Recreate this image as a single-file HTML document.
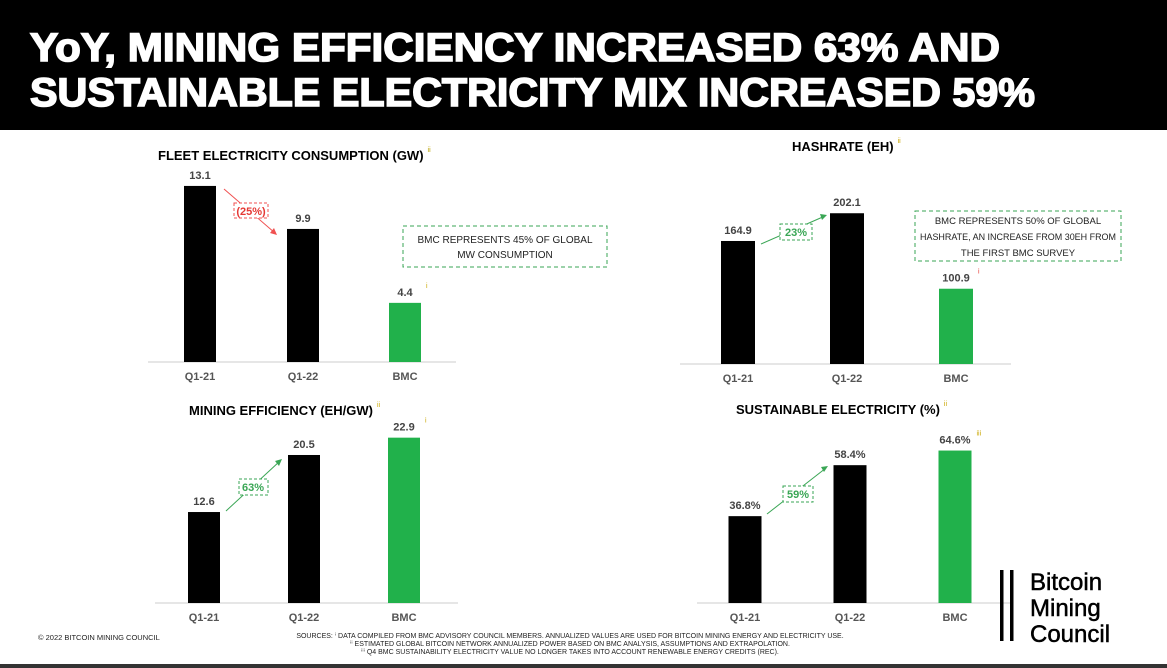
<!DOCTYPE html>
<html><head><meta charset="utf-8">
<style>
html,body{margin:0;padding:0;background:#fff;width:1167px;height:668px;overflow:hidden}
svg{display:block;font-family:"Liberation Sans",sans-serif}
</style></head>
<body>
<svg id="s" width="1167" height="668" viewBox="0 0 1167 668">
<rect x="0" y="0" width="1167" height="130" fill="#000"/>
<text x="30" y="61" fill="#fff" stroke="#fff" stroke-width="1.6" font-size="40" font-weight="bold" textLength="970" lengthAdjust="spacingAndGlyphs">YoY, MINING EFFICIENCY INCREASED 63% AND</text>
<text x="30" y="106" fill="#fff" stroke="#fff" stroke-width="1.6" font-size="40" font-weight="bold" textLength="1005" lengthAdjust="spacingAndGlyphs">SUSTAINABLE ELECTRICITY MIX INCREASED 59%</text>
<g id="charts"></g>
<rect x="403" y="226" width="204" height="41" fill="none" stroke="#3aa655" stroke-dasharray="4,3"/>
<text x="505" y="243" font-size="10" text-anchor="middle" fill="#222">BMC REPRESENTS 45% OF GLOBAL</text>
<text x="505" y="258" font-size="10" text-anchor="middle" fill="#222">MW CONSUMPTION</text>
<rect x="915" y="211" width="206" height="50" fill="none" stroke="#3aa655" stroke-dasharray="4,3"/>
<text x="1018" y="224" font-size="9.5" text-anchor="middle" fill="#222">BMC REPRESENTS 50% OF GLOBAL</text>
<text x="1018" y="240" font-size="9.5" text-anchor="middle" fill="#222" textLength="196" lengthAdjust="spacingAndGlyphs">HASHRATE, AN INCREASE FROM 30EH FROM</text>
<text x="1018" y="256" font-size="9.5" text-anchor="middle" fill="#222">THE FIRST BMC SURVEY</text>
<g>
<line x1="224" y1="189" x2="275" y2="233" stroke="#f05050" stroke-width="1"/>
<polygon points="277,235 270,233 274,228" fill="#f05050"/>
<rect x="234" y="203" width="34" height="15" fill="#fff" stroke="#f05050" stroke-dasharray="3,2"/>
<text x="251" y="215" font-size="11" font-weight="bold" fill="#e53935" text-anchor="middle">(25%)</text>
</g>
<g>
<line x1="761" y1="244" x2="825" y2="216" stroke="#3aa655" stroke-width="1"/>
<polygon points="827,215 820,214 822,220" fill="#3aa655"/>
<rect x="780" y="224" width="32" height="16" fill="#fff" stroke="#3aa655" stroke-dasharray="3,2"/>
<text x="796" y="236" font-size="11" font-weight="bold" fill="#3aa655" text-anchor="middle">23%</text>
</g>
<g>
<line x1="226" y1="511" x2="280" y2="461" stroke="#3aa655" stroke-width="1"/>
<polygon points="282,459 275,461 279,466" fill="#3aa655"/>
<rect x="239" y="479" width="29" height="16" fill="#fff" stroke="#3aa655" stroke-dasharray="3,2"/>
<text x="253" y="491" font-size="11" font-weight="bold" fill="#3aa655" text-anchor="middle">63%</text>
</g>
<g>
<line x1="767" y1="514" x2="826" y2="468" stroke="#3aa655" stroke-width="1"/>
<polygon points="828,466 821,467 824,472" fill="#3aa655"/>
<rect x="783" y="486" width="30" height="16" fill="#fff" stroke="#3aa655" stroke-dasharray="3,2"/>
<text x="798" y="498" font-size="11" font-weight="bold" fill="#3aa655" text-anchor="middle">59%</text>
</g>
<g>
<rect x="1000" y="570" width="3.5" height="71" fill="#000"/>
<rect x="1010" y="570" width="3.5" height="71" fill="#000"/>
<text x="1030" y="590" font-size="24" fill="#000" stroke="#000" stroke-width="0.5">Bitcoin</text>
<text x="1030" y="616" font-size="24" fill="#000" stroke="#000" stroke-width="0.5">Mining</text>
<text x="1030" y="642" font-size="24" fill="#000" stroke="#000" stroke-width="0.5">Council</text>
</g>
<text x="38" y="640" font-size="7.5" fill="#222">© 2022 BITCOIN MINING COUNCIL</text>
<text x="570" y="638" font-size="7" fill="#222" text-anchor="middle">SOURCES: ⁱ DATA COMPILED FROM BMC ADVISORY COUNCIL MEMBERS. ANNUALIZED VALUES ARE USED FOR BITCOIN MINING ENERGY AND ELECTRICITY USE.</text>
<text x="570" y="646" font-size="7" fill="#222" text-anchor="middle">ⁱⁱ ESTIMATED GLOBAL BITCOIN NETWORK ANNUALIZED POWER BASED ON BMC ANALYSIS, ASSUMPTIONS AND EXTRAPOLATION.</text>
<text x="570" y="654" font-size="7" fill="#222" text-anchor="middle">ⁱⁱⁱ Q4 BMC SUSTAINABILITY ELECTRICITY VALUE NO LONGER TAKES INTO ACCOUNT RENEWABLE ENERGY CREDITS (REC).</text>
<rect x="0" y="664" width="1167" height="4" fill="#333"/>
</svg>
<script>
const categories = ["Q1-21", "Q1-22", "BMC"];
const fleetValues = [13.1, 9.9, 4.4];
const fleetLabels = ["13.1", "9.9", "4.4"];
const hashrateValues = [164.9, 202.1, 100.9];
const hashrateLabels = ["164.9", "202.1", "100.9"];
const efficiencyValues = [12.6, 20.5, 22.9];
const efficiencyLabels = ["12.6", "20.5", "22.9"];
const sustainValues = [36.8, 58.4, 64.6];
const sustainLabels = ["36.8%", "58.4%", "64.6%"];

const NS = "http://www.w3.org/2000/svg";
const root = document.getElementById("charts");
function mk(tag, attrs, parent) {
  const e = document.createElementNS(NS, tag);
  for (const k in attrs) e.setAttribute(k, attrs[k]);
  parent.appendChild(e);
  return e;
}
const panels = [
  {key:"fleet", title:"FLEET ELECTRICITY CONSUMPTION (GW)", tx:158, ty:160, values:fleetValues, labels:fleetLabels,
   base:362, ax0:148, ax1:456, xs:[200,303,405], bw:32, scale:13.44, sup:"ii", supc:"#b8a000", bmcSup:"i", bmcSupc:"#c9a600"},
  {key:"hashrate", title:"HASHRATE (EH)", tx:792, ty:151, values:hashrateValues, labels:hashrateLabels,
   base:364, ax0:680, ax1:1011, xs:[738,847,956], bw:34, scale:0.746, sup:"ii", supc:"#c9a600", bmcSup:"i", bmcSupc:"#e53935"},
  {key:"efficiency", title:"MINING EFFICIENCY (EH/GW)", tx:189, ty:415, values:efficiencyValues, labels:efficiencyLabels,
   base:603, ax0:155, ax1:458, xs:[204,304,404], bw:32, scale:7.22, sup:"ii", supc:"#c9a600", bmcSup:"i", bmcSupc:"#c9a600"},
  {key:"sustainable", title:"SUSTAINABLE ELECTRICITY (%)", tx:736, ty:414, values:sustainValues, labels:sustainLabels,
   base:603, ax0:697, ax1:1011, xs:[745,850,955], bw:33, scale:2.36, sup:"ii", supc:"#c9a600", bmcSup:"iii", bmcSupc:"#c9a600"}
];
panels.forEach(p => {
  const g = mk("g", {}, root);
  
  
  const t = mk("text", {x:p.tx, y:p.ty, "font-size":13, "font-weight":"bold", fill:"#000"}, g);
  t.textContent = p.title;
  
  
  const tw = t.getComputedTextLength();
  const s = mk("text", {x:p.tx + tw + 4, y:p.ty - 8, "font-size":7, fill:p.supc}, g);
  s.textContent = p.sup;
  const ax = mk("line", {x1:p.ax0, y1:p.base, x2:p.ax1, y2:p.base, stroke:"#ddd", "stroke-width":1.5}, g);
  
  
  p.values.forEach((v, i) => {
    const h = v * p.scale;
    const cx = p.xs[i];
    const r = mk("rect", {x:cx - p.bw/2, y:p.base - h, width:p.bw, height:h, fill: i === 2 ? "#21b14b" : "#000"}, g);
    
    
    const vl = mk("text", {x:cx, y:p.base - h - 7, "font-size":11, "font-weight":"bold", fill:"#444", "text-anchor":"middle"}, g);
    vl.textContent = p.labels[i];
    
    
    const cl = mk("text", {x:cx, y:p.base + 18, "font-size":11, "font-weight":"bold", fill:"#555", "text-anchor":"middle"}, g);
    cl.textContent = categories[i];
    
    
    if (i === 2) {
      const bs = mk("text", {x:cx + p.bw/2 + 5, y:p.base - h - 15, "font-size":7, fill:p.bmcSupc}, g);
      bs.textContent = p.bmcSup;
    }
  });
});
</script>
</body></html>
